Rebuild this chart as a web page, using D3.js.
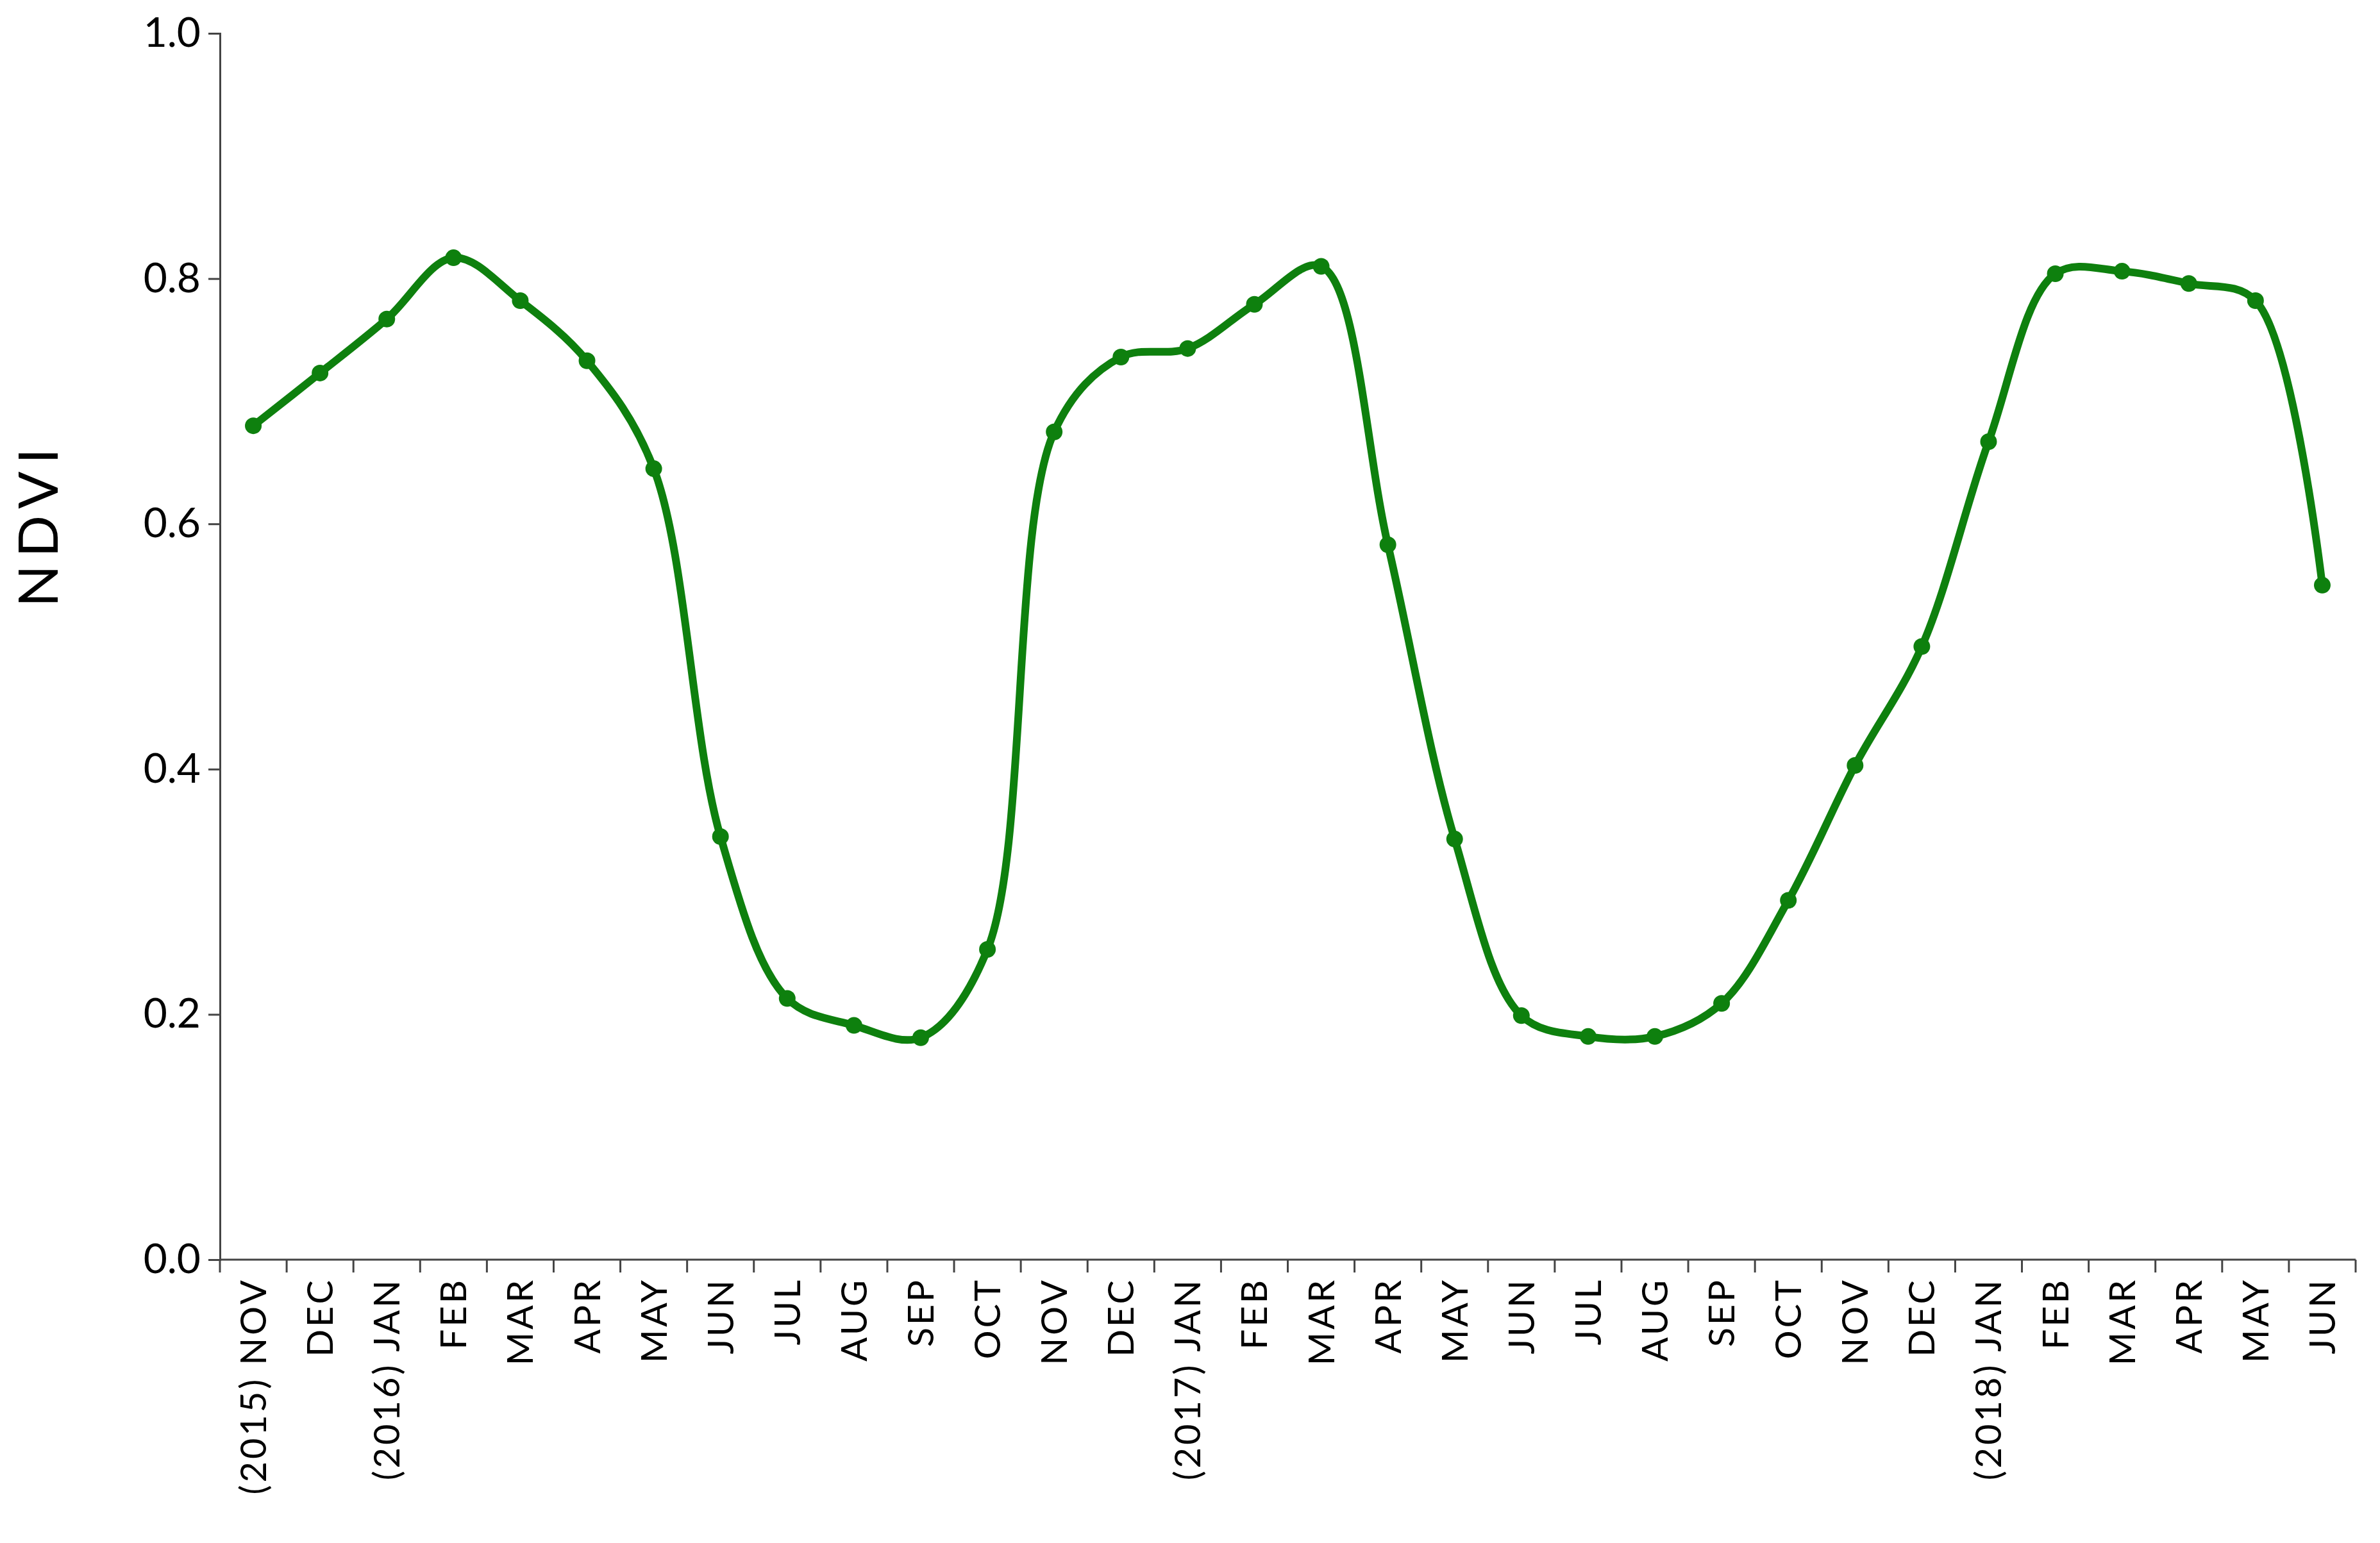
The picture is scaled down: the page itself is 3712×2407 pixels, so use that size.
<!DOCTYPE html><html><head><meta charset="utf-8">
<script src="https://cdn.jsdelivr.net/npm/d3@7"></script>
<style>body{margin:0;background:#fff}</style></head><body><svg id="c" width="3712" height="2407"></svg>
<script>
const categories=["(2015) NOV","DEC","(2016) JAN","FEB","MAR","APR","MAY","JUN","JUL","AUG","SEP","OCT","NOV","DEC","(2017) JAN","FEB","MAR","APR","MAY","JUN","JUL","AUG","SEP","OCT","NOV","DEC","(2018) JAN","FEB","MAR","APR","MAY","JUN"];
const ndvi=[0.680,0.723,0.767,0.817,0.782,0.733,0.645,0.345,0.213,0.191,0.181,0.253,0.675,0.736,0.743,0.779,0.810,0.583,0.343,0.199,0.182,0.182,0.209,0.293,0.403,0.500,0.667,0.804,0.806,0.796,0.782,0.550];
const yTicks=[0,0.2,0.4,0.6,0.8,1.0];
const W=3712,H=2407,m={l:343,r:38,t:52,b:442};
const svg=d3.select("#c");
const x=d3.scaleBand().domain(d3.range(categories.length)).range([m.l,W-m.r]);
const y=d3.scaleLinear().domain([0,1]).range([H-m.b,m.t]);
const font="Lato,'Open Sans',sans-serif";
const ya=svg.append("g").attr("transform",`translate(${m.l},0)`).call(d3.axisLeft(y).tickValues(yTicks).tickFormat(d3.format(".1f")).tickSize(18).tickPadding(12));
ya.selectAll("text").style("font-family",font).style("font-size","64px").attr("fill","#000");
ya.selectAll("line,path").attr("stroke","#444").attr("stroke-width",3);
const xa=svg.append("g").attr("transform",`translate(0,${H-m.b})`);
xa.append("line").attr("x1",m.l).attr("x2",W-m.r).attr("stroke","#444").attr("stroke-width",3);
const bounds=d3.range(categories.length+1).map(i=>m.l+i*x.step());
xa.selectAll(".tk").data(bounds).join("line").attr("x1",d=>d).attr("x2",d=>d).attr("y1",0).attr("y2",20).attr("stroke","#444").attr("stroke-width",3);
xa.selectAll(".lb").data(categories).join("text")
 .attr("transform",(d,i)=>`translate(${x(i)+x.bandwidth()/2+20},28) rotate(-90)`)
 .attr("text-anchor","end").style("font-family",font).style("font-size","56px").style("letter-spacing","4px").text(d=>d);
svg.append("text").attr("transform",`translate(90,${y(0.6)}) rotate(-90)`).attr("text-anchor","middle")
 .style("font-family",font).style("font-size","86px").style("letter-spacing","12px").text("NDVI");
const cx=i=>x(i)+x.bandwidth()/2;
const line=d3.line().x((d,i)=>cx(i)).y(d=>y(d)).curve(d3.curveCatmullRom.alpha(0.5));
svg.append("path").datum(ndvi).attr("d",line).attr("fill","none").attr("stroke","#0e800e").attr("stroke-width",12);
svg.selectAll(".pt").data(ndvi).join("circle").attr("cx",(d,i)=>cx(i)).attr("cy",d=>y(d)).attr("r",13).attr("fill","#0e800e");
</script></body></html>
